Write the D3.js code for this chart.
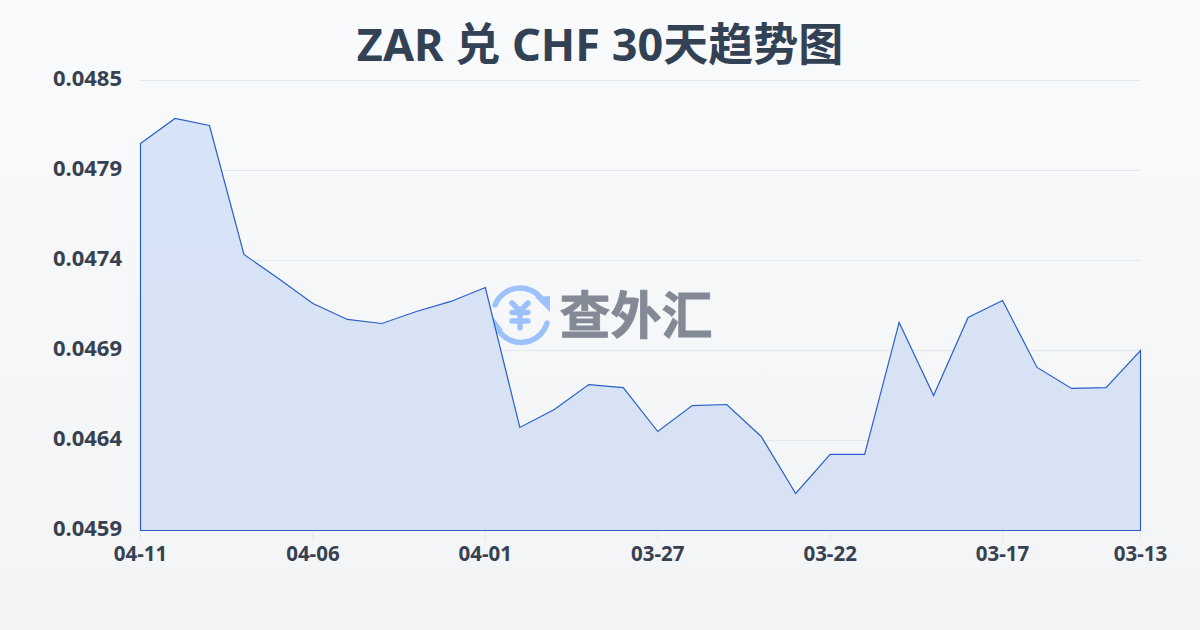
<!DOCTYPE html>
<html><head><meta charset="utf-8">
<script src="https://cdn.jsdelivr.net/npm/d3@7/dist/d3.min.js"></script>
<style>html,body{margin:0;padding:0;width:1200px;height:630px;overflow:hidden}svg{display:block}text{font-family:"Noto Sans","Noto Sans CJK SC",sans-serif}</style>
</head><body><svg id="c" width="1200" height="630"></svg>
<script>
const chartTitle = "ZAR 兑 CHF 30天趋势图";
const watermarkText = "查外汇";
const dates = ["04-11","04-10","04-09","04-08","04-07","04-06","04-05","04-04","04-03","04-02","04-01","03-31","03-30","03-29","03-28","03-27","03-26","03-25","03-24","03-23","03-22","03-21","03-20","03-19","03-18","03-17","03-16","03-15","03-14","03-13"];
const rates = [0.048093,0.048235,0.048195,0.047464,0.047328,0.047186,0.047096,0.047073,0.047141,0.047198,0.047277,0.046484,0.046586,0.046727,0.046710,0.046461,0.046608,0.046614,0.046433,0.046110,0.046331,0.046331,0.047079,0.046665,0.047107,0.047203,0.046824,0.046705,0.046710,0.046920];
const xTickLabels = ["04-11","04-06","04-01","03-27","03-22","03-17","03-13"];
const yTicks = [0.0459,0.04641,0.04692,0.04743,0.04794,0.04845];

const svg = d3.select("#c");
const defs = svg.append("defs");
const bg = defs.append("linearGradient").attr("id","bg").attr("x1",0).attr("y1",0).attr("x2",0).attr("y2",1);
bg.append("stop").attr("offset",0).attr("stop-color","#f8fafc");
bg.append("stop").attr("offset",1).attr("stop-color","#f3f4f6");
const ag = defs.append("linearGradient").attr("id","ag").attr("x1",0).attr("y1",0).attr("x2",0).attr("y2",1);
ag.append("stop").attr("offset",0).attr("stop-color","#d4e2f8");
ag.append("stop").attr("offset",1).attr("stop-color","#d7e0f3");
svg.append("rect").attr("width",1200).attr("height",630).attr("fill","url(#bg)");

const x = d3.scalePoint().domain(dates).range([140.5,1140.5]);
const y = d3.scaleLinear().domain([0.0459,0.04845]).range([530.5,80.5]);

svg.append("text").attr("x",600).attr("y",61).attr("text-anchor","middle")
  .attr("font-size",45).attr("font-weight",700).attr("fill","#334155").text(chartTitle);

// grid
svg.append("g").selectAll("line").data(yTicks.slice(1)).join("line")
  .attr("x1",140).attr("x2",1140).attr("y1",d=>Math.floor(y(d))+.5).attr("y2",d=>Math.floor(y(d))+.5)
  .attr("stroke","#e2e8f0").attr("stroke-width",1);

// watermark
const wm = svg.append("g");
const ic = wm.append("g").attr("fill","none").attr("stroke","#9dc1fb").attr("stroke-width",5.5).attr("stroke-linecap","round");
ic.append("path").attr("d","M495 305 A27 27 0 0 1 541 298");
ic.append("path").attr("d","M547 323 A27 27 0 0 1 499 331");
wm.append("path").attr("d","M535 297 L550 296 L550 312 Z").attr("fill","#9dc1fb");
wm.append("path").attr("d","M503 330 L491 330 L493 317 Z").attr("fill","#9dc1fb");
const yn = wm.append("g").attr("fill","none").attr("stroke","#9dc1fb").attr("stroke-width",5.5).attr("stroke-linecap","round");
yn.append("path").attr("d","M512 303 L520 311 L528 303 M512 312.5 H528 M512 321 H528 M520 311 V328");
wm.append("text").attr("x",636).attr("y",334).attr("text-anchor","middle").attr("font-size",51).attr("font-weight",700)
  .attr("fill","#6b7280").attr("stroke","#6b7280").attr("stroke-width",.8).attr("opacity",.82).text(watermarkText);

// area
const area = d3.area().x(d=>x(d.date)).y0(y(0.0459)).y1(d=>y(d.value));
const pts = dates.map((d,i)=>({date:d,value:rates[i]}));
svg.append("path").datum(pts).attr("d",area).attr("fill","url(#ag)").attr("fill-opacity",.93)
  .attr("stroke","#2a5fc9").attr("stroke-width",1.2).attr("stroke-linejoin","miter");

// axes labels
svg.append("g").selectAll("text").data(yTicks).join("text")
  .attr("x",122).attr("y",d=>y(d)+5.5).attr("text-anchor","end")
  .attr("font-size",22).attr("font-weight",700).attr("fill","#374151").text(d=>d.toFixed(4));
svg.append("g").selectAll("line").data(xTickLabels).join("line")
  .attr("x1",d=>x(d)).attr("x2",d=>x(d)).attr("y1",531).attr("y2",541)
  .attr("stroke","#e2e8f0");
svg.append("g").selectAll("text").data(xTickLabels).join("text")
  .attr("x",d=>x(d)).attr("y",560.5).attr("text-anchor","middle")
  .attr("font-size",20.5).attr("font-weight",700).attr("fill","#374151").text(d=>d);
</script></body></html>
